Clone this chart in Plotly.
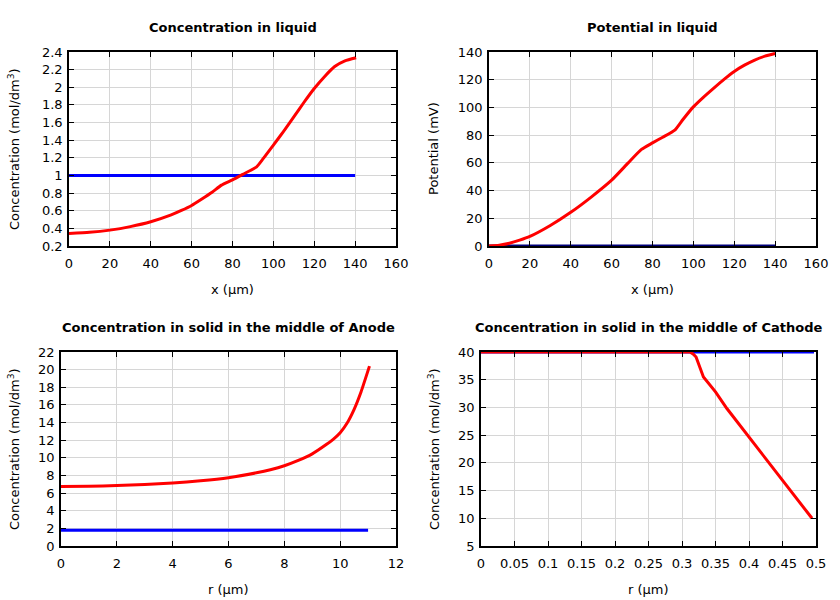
import plotly.graph_objects as go

# ---- data ----
liq_x = [0, 10, 20, 30, 40, 50, 55, 60, 65, 70, 74.6, 80, 85, 91.8, 95, 100, 105, 110, 115, 120, 125, 130, 135, 140.5]
liq_conc = [0.343, 0.355, 0.38, 0.42, 0.475, 0.553, 0.603, 0.66, 0.733, 0.81, 0.89, 0.95, 1.012, 1.098, 1.19,
            1.344, 1.50, 1.664, 1.83, 1.986, 2.12, 2.235, 2.30, 2.335]
liq_conc_init_x = [0, 140]
liq_conc_init = [1.0, 1.0]

pot_x = [0, 5, 10, 15, 20, 30, 40, 50, 60, 68, 74.6, 80, 85, 90.9, 95, 100, 105, 110, 115, 120, 125, 130, 135, 140]
pot_val = [0, 0.6, 2.0, 4.2, 6.9, 14.8, 24.3, 35.3, 47.5, 59.8, 69.7, 74.4, 78.5, 83.6, 91.5, 100.4, 107.5, 114,
           120.3, 126.0, 130.5, 134.2, 137.0, 138.9]
pot_init_x = [0, 140]
pot_init = [0, 0]

an_r = [0, 1, 2, 3, 4, 5, 6, 7, 7.5, 8, 8.5, 9, 9.5, 9.75, 10, 10.25, 10.5, 10.75, 11.05]
an_c = [6.75, 6.78, 6.85, 6.98, 7.15, 7.4, 7.75, 8.3, 8.65, 9.1, 9.7, 10.45, 11.5, 12.1, 12.85, 13.95, 15.5, 17.5, 20.4]
an_init_r = [0, 11]
an_init = [1.8, 1.8]

ca_r = [0, 0.312, 0.317, 0.321, 0.332, 0.35, 0.367, 0.40, 0.425, 0.446, 0.47, 0.494]
ca_c = [40, 40, 39.6, 39.1, 35.5, 32.8, 29.8, 24.7, 20.8, 17.5, 13.7, 10.0]
ca_init_r = [0, 0.497]
ca_init = [40, 40]

titles = ["Concentration in liquid", "Potential in liquid",
          "Concentration in solid in the middle of Anode",
          "Concentration in solid in the middle of Cathode"]
conc_label = "Concentration (mol/dm<sup>3</sup>)"
ytitles = [conc_label, "Potential (mV)", conc_label, conc_label]
xtitles = ["x (µm)", "x (µm)", "r (µm)", "r (µm)"]

W, H = 840, 600
FONT = "DejaVu Sans"
RED = "#ff0000"
BLUE = "#0000ff"

# pixel boxes: (left, right, top, bottom)
boxes = [(69, 396, 52, 246), (489, 816, 52, 246), (61, 396, 352, 546), (481, 816, 352, 546)]

fig = go.Figure()

def add(xs, ys, color, idx, shape="linear"):
    sfx = "" if idx == 0 else str(idx + 1)
    line = dict(color=color, width=3, shape=shape)
    if shape == "spline":
        line["smoothing"] = 0.5
    fig.add_trace(go.Scatter(x=xs, y=ys, mode="lines", line=line,
                             xaxis="x" + sfx, yaxis="y" + sfx, showlegend=False, hoverinfo="skip"))

add(liq_conc_init_x, liq_conc_init, BLUE, 0)
add(liq_x, liq_conc, RED, 0, "spline")
add(pot_init_x, pot_init, "#00007a", 1)
add(pot_x, pot_val, RED, 1, "spline")
add(an_init_r, an_init, BLUE, 2)
add(an_r, an_c, RED, 2, "spline")
add(ca_init_r, ca_init, BLUE, 3)
add(ca_r, ca_c, RED, 3)

xranges = [(0, 160, 20), (0, 160, 20), (0, 12, 2), (0, 0.5, 0.05)]
yranges = [(0.2, 2.4, 0.2), (0, 140, 20), (0, 22, 2), (5, 40, 5)]

axis_common = dict(showline=True, linecolor="black", linewidth=1.5, mirror="ticks",
                   ticks="inside", ticklen=5, tickcolor="black", tickwidth=1,
                   showgrid=True, gridcolor="#d6d6d6", gridwidth=1, zeroline=False,
                   automargin=False,
                   tickfont=dict(family=FONT, size=13, color="black"))

layout = dict(width=W, height=H, margin=dict(l=0, r=0, t=0, b=0, autoexpand=False),
              plot_bgcolor="white", paper_bgcolor="white", showlegend=False)
annotations = []
for i, (l, r, t, b) in enumerate(boxes):
    sfx = "" if i == 0 else str(i + 1)
    x0, x1, dx = xranges[i]
    y0, y1, dy = yranges[i]
    layout["xaxis" + sfx] = dict(domain=[l / W, r / W], range=[x0, x1], dtick=dx, tick0=x0,
                                 anchor="y" + sfx, ticklabelstandoff=5, **axis_common)
    layout["yaxis" + sfx] = dict(domain=[1 - b / H, 1 - t / H], range=[y0, y1], dtick=dy, tick0=y0,
                                 anchor="x" + sfx, ticklabelstandoff=2, **axis_common)
    cx = (l + r) / 2
    annotations.append(dict(text="<b>" + titles[i] + "</b>", x=cx / W, y=1 - (t - 25) / H,
                            xref="paper", yref="paper", showarrow=False, xanchor="center", yanchor="middle",
                            font=dict(family=FONT, size=13, color="black")))
    annotations.append(dict(text=xtitles[i], x=cx / W, y=1 - (b + 43) / H,
                            xref="paper", yref="paper", showarrow=False, xanchor="center", yanchor="middle",
                            font=dict(family=FONT, size=13, color="black")))
    ytx = 14 if i in (0, 2) else 434
    annotations.append(dict(text=ytitles[i], x=ytx / W, y=1 - ((t + b) / 2) / H, textangle=-90,
                            xref="paper", yref="paper", showarrow=False, xanchor="center", yanchor="middle",
                            font=dict(family=FONT, size=13, color="black")))
layout["annotations"] = annotations
fig.update_layout(**layout)
fig.write_html("out.html", config={"displayModeBar": False},
               post_script="document.body.style.margin='0px';document.documentElement.style.overflow='hidden';")
